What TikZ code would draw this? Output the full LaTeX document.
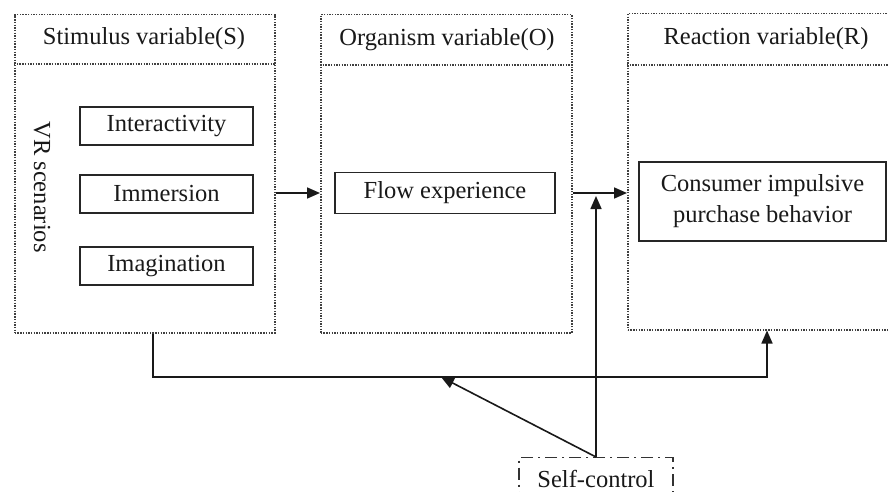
\documentclass[tikz,border=0pt]{standalone}
\usepackage{fontspec}
\setmainfont{Liberation Serif}
\usetikzlibrary{arrows.meta}
\begin{document}
\begin{tikzpicture}[x=1pt,y=-1pt,
  dotbox/.style={draw=black!75, line width=1.5pt, dash pattern=on 1.4pt off 1.3pt, inner sep=0pt, anchor=north west},
  dotline/.style={draw=black!75, line width=1.5pt, dash pattern=on 1.4pt off 1.3pt},
  inbox/.style={draw=black!85, line width=1.6pt, fill=white, inner sep=0pt},
  lbl/.style={text=black!90, font=\fontsize{24.5}{31}\selectfont},
  arr/.style={draw=black!90, line width=1.6pt, -{Triangle[length=13pt,width=11pt]}},
  ctrl/.style={draw=black!80, line width=1.4pt, dash pattern=on 12pt off 5pt on 2pt off 5pt, inner sep=0pt, anchor=north}
  ]
\useasboundingbox (0,0) rectangle (888,492);
\clip (0,0) rectangle (888,492);
\fill[white] (0,0) rectangle (888,492);

% outer variable boxes
\node[dotbox, minimum width=260pt, minimum height=318pt] (S) at (14,14) {};
\node[dotbox, minimum width=251pt, minimum height=318pt] (O) at (320,14) {};
\node[dotbox, minimum width=278pt, minimum height=316pt] (R) at (627,13) {};
\draw[dotline] (S.west |- 0,64) -- (S.east |- 0,64);
\draw[dotline] (O.west |- 0,65) -- (O.east |- 0,65);
\draw[dotline] (R.west |- 0,65) -- (R.east |- 0,65);

% headers
\node[lbl] (Sh) at (144,39) {Stimulus variable(S)};
\node[lbl] (Oh) at (447,40) {Organism variable(O)};
\node[lbl] (Rh) at (766,39) {Reaction variable(R)};

% inner boxes
\node[lbl, rotate=-90] (vr) at (42,187) {VR scenarios};
\node[inbox, lbl, minimum width=173pt, minimum height=38pt] (inter) at (166.5,126) {Interactivity};
\node[inbox, lbl, minimum width=173pt, minimum height=38pt] (imm) at (166.5,194) {Immersion};
\node[inbox, lbl, minimum width=173pt, minimum height=38pt] (imag) at (166.5,266) {Imagination};
\node[inbox, lbl, minimum width=220pt, minimum height=41pt] (flow) at (445,193) {Flow experience};
\node[inbox, lbl, minimum width=247pt, minimum height=79pt, align=center] (cons) at (762.5,201.5) {Consumer impulsive\\purchase behavior};

% self-control
\node[ctrl, lbl, minimum width=154pt, minimum height=42pt] (sc) at (596,457) {Self-control};

% coordinates
\coordinate (loopL) at (153,377);
\coordinate (loopR) at (767,377);
\coordinate (modpt) at (441,377);
\coordinate (j) at (sc.north |- flow);

% connectors
\draw[arr] (S.east |- flow) -- (O.west |- flow);
\draw[arr] (O.east |- flow) -- (R.west |- flow);
\draw[arr] (S.south -| loopL) -- (loopL) -- (loopR) -- (R.south -| loopR);
\draw[arr] (sc.north) -- ([yshift=-3pt]j);
\draw[arr] (sc.north) -- (modpt);
\end{tikzpicture}
\end{document}
